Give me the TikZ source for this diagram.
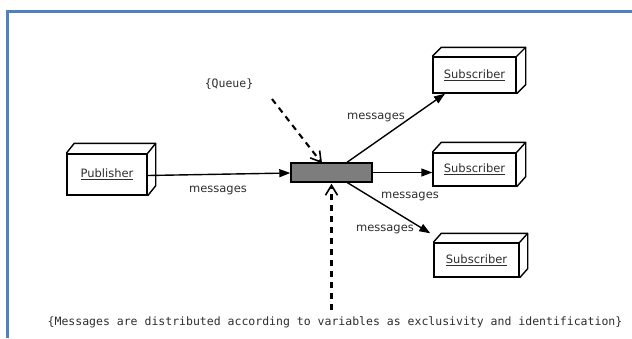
\documentclass[tikz,border=0pt]{standalone}
\usepackage{fontspec}
\setmainfont{DejaVu Sans}
\setmonofont{DejaVu Sans Mono}
\usetikzlibrary{arrows.meta,calc}
\definecolor{frameblue}{RGB}{79,129,189}
\definecolor{queuefill}{RGB}{125,125,125}
\definecolor{inkgray}{RGB}{45,45,45}

% one unit = 1pt, y axis pointing down
\tikzset{
  x=1pt, y=-1pt,
  every node/.style={font=\fontsize{11.5}{13}\selectfont, text=inkgray},
  nodebox/.style={draw, line width=1.4pt, rectangle, inner sep=0pt},
  queuebox/.style={draw, line width=1.4pt, fill=queuefill, inner sep=0pt,
                   minimum width=81pt, minimum height=19pt},
  msgflow/.style={line width=1.4pt, -{Triangle[length=11pt,width=8pt]}},
  notelink/.style={line width=2.1pt, dash pattern=on 6pt off 5pt,
                   -{Straight Barb[length=10pt,width=12pt,line width=1.6pt]}},
  msglabel/.style={inner sep=1pt},
  notetext/.style={font=\ttfamily\fontsize{11.5}{13}\selectfont, inner sep=1pt}
}

% depth faces of a 3D box drawn behind its front face
\newcommand{\boxdepth}[3]{%
  \draw[line width=1.4pt, line join=round]
    (#1.north west) -- ++(#2,#3) -- ($(#1.north east)+(#2,#3)$)
    -- ($(#1.south east)+(#2,#3)$) -- (#1.south east);
  \draw[line width=1.4pt] (#1.north east) -- ++(#2,#3);
}

\begin{document}
\begin{tikzpicture}
\useasboundingbox (0,0) rectangle (632,338);

% page frame
\draw[frameblue, line width=2.6pt] (7.5,338) -- (7.5,11.5) -- (632,11.5);

% nodes
\node[nodebox, minimum width=80pt, minimum height=41pt] (pub) at (107,174.5) {\underline{Publisher}};
\node[nodebox, minimum width=83pt, minimum height=36pt] (sub1) at (474.5,75) {\underline{Subscriber}};
\node[nodebox, minimum width=83pt, minimum height=33pt] (sub2) at (474.5,169.5) {\underline{Subscriber}};
\node[nodebox, minimum width=85pt, minimum height=34pt] (sub3) at (476.5,260) {\underline{Subscriber}};
\node[queuebox] (queue) at (331.5,172.5) {};

\boxdepth{pub}{8}{-10}
\boxdepth{sub1}{9}{-9}
\boxdepth{sub2}{9}{-10}
\boxdepth{sub3}{8}{-9}

% annotation texts
\node[notetext] (qname) at (229,84) {\{Queue\}};
\node[notetext] (note) at (335,322) {\{Messages are distributed according to variables as exclusivity and identification\}};

% message flows
\draw[msgflow] ([yshift=-1pt]pub.east) -- ([yshift=-0.5pt]queue.west);
\draw[msgflow] ([xshift=15.5pt]queue.north) -- ([xshift=-29.5pt]sub1.south);
\draw[msgflow] (queue.east) -- (queue.east -| sub2.west);
\draw[msgflow] ([xshift=16pt]queue.south) -- ([xshift=-3pt,yshift=9pt]sub3.north west);

% flow labels
\node[msglabel] (m0) at (218,190) {messages};
\node[msglabel] (m1) at (376,117) {messages};
\node[msglabel] (m2) at (410,196) {messages};
\node[msglabel] (m3) at (385,229) {messages};

% dashed annotation links
\coordinate (qtail) at (272,99);
\draw[notelink] (qtail) -- ([xshift=-9.5pt,yshift=-1pt]queue.north);
\coordinate (ntail) at ($(queue.south |- note.north)+(0,-5)$);
\draw[notelink] (ntail) -- ([yshift=-1pt]queue.south);
\end{tikzpicture}
\end{document}
